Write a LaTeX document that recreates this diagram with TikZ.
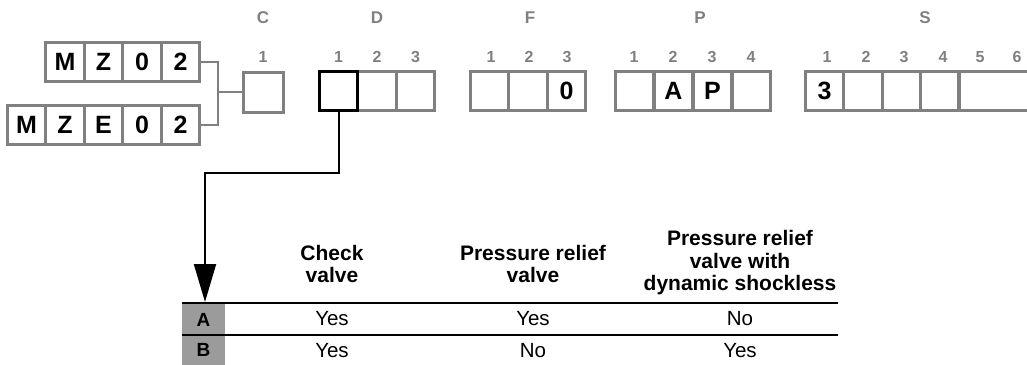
\documentclass[tikz,border=0pt]{standalone}
\usepackage{fontspec}
\setmainfont{Liberation Sans}
\usetikzlibrary{arrows.meta}

\definecolor{codegrey}{RGB}{128,128,128}
\definecolor{keygrey}{RGB}{155,155,155}

\tikzset{every node/.style={inner sep=0pt}}
\tikzstyle{cell}=[rectangle,draw=codegrey,line width=3pt,minimum width=38.5pt,minimum height=39pt,
  font=\fontsize{25}{25}\selectfont\bfseries]
\tikzstyle{pick}=[cell,draw=black]
\tikzstyle{grp}=[text=codegrey,font=\fontsize{17}{17}\selectfont\bfseries]
\tikzstyle{posnum}=[text=codegrey,font=\fontsize{16}{16}\selectfont\bfseries]
\tikzstyle{head}=[align=center,font=\fontsize{21}{22.5}\selectfont\bfseries]
\tikzstyle{val}=[font=\fontsize{20.5}{20.5}\selectfont]
\tikzstyle{rowkey}=[fill=keygrey,minimum width=43pt,minimum height=31pt,font=\fontsize{19}{19}\selectfont\bfseries]

\begin{document}
\begin{tikzpicture}[x=1pt,y=-1pt]
            \useasboundingbox (0,0) rectangle (1027,364);
            % model code boxes
            \node [cell] (mz1) at (65,62) {M};
            \node [cell] (mz2) at (103.5,62) {Z};
            \node [cell] (mz3) at (142,62) {0};
            \node [cell] (mz4) at (180.5,62) {2};
            \node [cell] (mze1) at (26.5,125) {M};
            \node [cell] (mze2) at (65,125) {Z};
            \node [cell] (mze3) at (103.5,125) {E};
            \node [cell] (mze4) at (142,125) {0};
            \node [cell] (mze5) at (180.5,125) {2};
            \coordinate (jn) at (218,92);
            \draw [codegrey,line width=2pt] (mz4.east) -| (jn) |- (mze5.east);
            % C
            \node [cell,minimum width=40pt,minimum height=40pt] (c1) at (263,92) {};
            \draw [codegrey,line width=2pt] (jn) -- (c1.west);
            \node [grp] (lc) at (263,18) {C};
            \node [posnum] (lc1) at (263,57) {1};
            % D
            \node [cell] (d2) at (377,91) {};
            \node [cell] (d3) at (415.5,91) {};
            \node [pick] (d1) at (338.5,91) {};
            \node [grp] (ld) at (377,18) {D};
            \node [posnum] (ld1) at (338.5,57) {1};
            \node [posnum] (ld2) at (377,57) {2};
            \node [posnum] (ld3) at (415.5,57) {3};
            % F
            \node [cell] (f1) at (489.5,91) {};
            \node [cell] (f2) at (528,91) {};
            \node [cell] (f3) at (566.5,91) {0};
            \node [grp] (lf) at (530,18) {F};
            \node [posnum] (lf1) at (491,57) {1};
            \node [posnum] (lf2) at (529,57) {2};
            \node [posnum] (lf3) at (567,57) {3};
            % P
            \node [cell] (p1) at (634.5,91) {};
            \node [cell] (p2) at (673.5,91) {A};
            \node [cell] (p3) at (712.5,91) {P};
            \node [cell] (p4) at (751.5,91) {};
            \node [grp] (lp) at (700,18) {P};
            \node [posnum] (lp1) at (634,57) {1};
            \node [posnum] (lp2) at (673,57) {2};
            \node [posnum] (lp3) at (712,57) {3};
            \node [posnum] (lp4) at (751,57) {4};
            % S
            \node [cell] (s1) at (824.5,91) {3};
            \node [cell] (s2) at (863,91) {};
            \node [cell] (s3) at (901.5,91) {};
            \node [cell] (s4) at (940,91) {};
            \node [cell,minimum width=82pt] (s5) at (999.5,91) {};
            \node [grp] (ls) at (925,18) {S};
            \node [posnum] (ls1) at (827,57) {1};
            \node [posnum] (ls2) at (866,57) {2};
            \node [posnum] (ls3) at (904,57) {3};
            \node [posnum] (ls4) at (943,57) {4};
            \node [posnum] (ls5) at (980,57) {5};
            \node [posnum] (ls6) at (1017,57) {6};
            % table
            \node [rowkey] (ka) at (203.5,319.5) {A};
            \node [rowkey,minimum height=30pt] (kb) at (203.5,350) {B};
            \node [head] (h1) at (332,264) {Check\\valve};
            \node [head] (h2) at (533,264) {Pressure relief\\valve};
            \node [head] (h3) at (740,263) {Pressure relief\\valve with\\dynamic shockless};
            \draw [line width=2pt] (182,303) -- (838,303);
            \draw [line width=2pt] (182,335) -- (838,335);
            \node [val] (a1) at (332,319) {Yes};
            \node [val] (a2) at (533,319) {Yes};
            \node [val] (a3) at (740,319) {No};
            \node [val] (b1) at (332,351) {Yes};
            \node [val] (b2) at (533,351) {No};
            \node [val] (b3) at (740,351) {Yes};
            % pointer
            \coordinate (knee) at (205,173);
            \coordinate (tip) at (205,302);
            \draw [line width=2pt,-{Triangle[width=22pt,length=38pt]}] (d1.south) |- (knee) -- (tip);
        \end{tikzpicture}
\end{document}
